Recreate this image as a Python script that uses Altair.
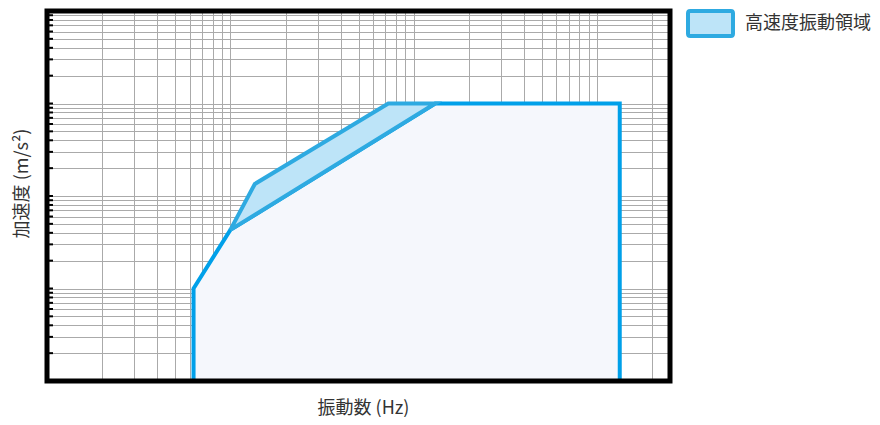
import altair as alt
import pandas as pd

# Data (frequency Hz vs acceleration m/s^2, log-log)
outer_x = [6.3, 6.3, 10, 131, 1330, 1330]
outer_y = [1, 10, 43, 1000, 1000, 1]
band_x = [10, 13.6, 72.7, 131, 10]
band_y = [43, 135, 1000, 1000, 43]
band_name = "高速度振動領域"

x_grid = [m * 10 ** k for k in range(0, 4) for m in range(1, 10) if 1 < m * 10 ** k < 2500]
y_grid = [m * 10 ** k for k in range(0, 4) for m in range(1, 10)] + [10000]

W, H = 623, 370
FONT = "Noto Sans CJK JP"

outer_df = pd.DataFrame({"x": outer_x, "y": outer_y, "i": range(len(outer_x))})
band_df = pd.DataFrame({"x": band_x, "y": band_y, "i": range(len(band_x)), "name": band_name})
ygrid_df = pd.DataFrame({"y": y_grid})

xs = alt.Scale(type="log", domain=[1, 2500], nice=False)
ys = alt.Scale(type="log", domain=[1, 10000], nice=False)

xaxis = alt.Axis(values=x_grid, grid=True, gridColor="#aaaaaa", gridWidth=1, labels=False,
                 ticks=False, domain=False, title="振動数 (Hz)", titleFont=FONT, titleFontSize=18,
                 titleFontWeight="normal", titleColor="#333333", titleX=316, titleY=27,
                 titleBaseline="middle", titleAlign="center")
yaxis = alt.Axis(values=y_grid, grid=True, gridColor="#aaaaaa", gridWidth=1, labels=False,
                 ticks=False, domain=False, title="加速度 (m/s²)", titleFont=FONT, titleFontSize=18,
                 titleFontWeight="normal", titleColor="#333333", titleX=-25, titleY=172,
                 titleAngle=-90, titleBaseline="middle", titleAlign="center")

outer = alt.Chart(outer_df).mark_line(fill="#f5f7fc", stroke="#00a0e9", strokeWidth=4,
                                       strokeJoin="miter").encode(
    x=alt.X("x:Q", scale=xs, axis=xaxis),
    y=alt.Y("y:Q", scale=ys, axis=yaxis),
    order="i:Q",
)

sym = "M-0.9,-0.556H0.9Q1,-0.556 1,-0.456V0.456Q1,0.556 0.9,0.556H-0.9Q-1,0.556 -1,0.456V-0.456Q-1,-0.556 -0.9,-0.556Z"

band = alt.Chart(band_df).mark_line(stroke="#2eaae1", strokeWidth=4, strokeJoin="miter").encode(
    x=alt.X("x:Q", scale=xs, axis=xaxis),
    y=alt.Y("y:Q", scale=ys, axis=yaxis),
    order="i:Q",
    fill=alt.Fill("name:N", scale=alt.Scale(domain=[band_name], range=["#bde4f8"]),
                  legend=alt.Legend(title=None, orient="none", legendX=639, legendY=-12,
                                    symbolType=sym, symbolSize=2025, symbolStrokeColor="#2eaae1",
                                    symbolStrokeWidth=4, symbolOpacity=1, labelFont=FONT,
                                    labelFontSize=18, labelColor="#333333", labelOffset=10,
                                    padding=0)),
)

frame = alt.Chart(pd.DataFrame({"a": [0]})).mark_rect(fill=None, stroke="black", strokeWidth=5).encode(
    x=alt.value(0), x2=alt.value(W), y=alt.value(0), y2=alt.value(H)
)

stubs = alt.Chart(ygrid_df).mark_rule(color="black", strokeWidth=2).encode(
    x=alt.value(0), x2=alt.value(6),
    y=alt.Y("y:Q", scale=ys, axis=yaxis),
)

chart = alt.layer(outer, band, frame, stubs).properties(
    width=W, height=H,
    autosize=alt.AutoSizeParams(type="none"),
    padding={"left": 39, "top": 3, "right": 202, "bottom": 36},
).configure_view(stroke=None).configure(font=FONT)

chart.save("out.html", embed_options={"renderer": "svg", "actions": False})
